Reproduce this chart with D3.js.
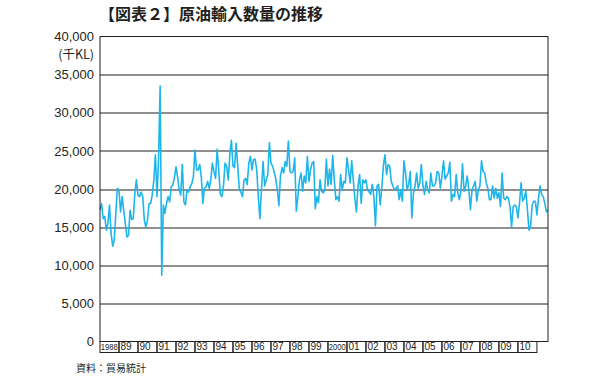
<!DOCTYPE html>
<html>
<head>
<meta charset="utf-8">
<script src="https://cdn.jsdelivr.net/npm/d3@7"></script>
<style>
  body { margin: 0; background: #fff; }
  svg { display: block; }
</style>
</head>
<body>
<svg id="chart" width="600" height="378"></svg>
<script>
// monthly crude oil import volume (thousand KL), Jan 1988 - Aug 2011
var imports1988to1993 = [
    17300, 18100, 16100, 16400, 14600, 15500, 17900, 14200, 12500, 13300, 16800, 20100,
    19900, 17000, 19000, 17200, 15500, 13700, 13900, 17200, 16000, 16100, 19400, 21200,
    19200, 19000, 19600, 19000, 15900, 15000, 15900, 18100, 18100, 19200, 21200, 24500,
    19000, 24000, 33500, 8700, 17900, 16800, 18100, 19000, 18300, 20300, 20500, 21500,
    22900, 21600, 19900, 19200, 23200, 18300, 17900, 19900, 19600, 20300, 20700, 21600,
    25100, 22500, 22500, 23200, 21600, 18100, 20100, 20300, 21000, 20100, 21200, 23400
];
var imports1994to1999 = [
    22300, 21400, 25200, 22500, 19300, 19000, 20400, 23400, 23000, 21200, 24500, 26400,
    23000, 22800, 26000, 23000, 19900, 19600, 19000, 21200, 21400, 20600, 23400, 24300,
    22500, 23900, 23900, 22500, 19000, 16100, 19900, 23600, 20400, 21200, 21900, 26100,
    23400, 23000, 22300, 21400, 19900, 17800, 21700, 22800, 22100, 23600, 23000, 26300,
    22300, 22100, 22300, 24100, 17100, 19000, 21200, 22100, 19700, 21700, 20800, 24300,
    21000, 22500, 23400, 23600, 17400, 19000, 18200, 21200, 19700, 19500, 19900, 23900
];
var imports2000to2005 = [
    20400, 22600, 20600, 24400, 21200, 18600, 19000, 18400, 21900, 19900, 21000, 20800,
    24100, 22600, 20800, 23700, 21200, 18800, 17000, 20400, 21900, 18100, 21200, 20800,
    21200, 19900, 19600, 19300, 20600, 19000, 15200, 20400, 20600, 17900, 20100, 23000,
    24500, 21900, 23200, 23000, 21000, 20400, 19900, 20100, 20400, 18600, 19900, 18400,
    23700, 22100, 19900, 20600, 22300, 16200, 19500, 20400, 22100, 20100, 20800, 23200,
    20400, 19300, 21000, 19900, 19500, 22100, 20400, 20400, 20800, 22300, 22100, 20100
];
var imports2006to2011 = [
    21700, 23700, 21300, 21700, 22100, 23500, 18400, 19300, 19000, 21900, 19500, 18600,
    19700, 23300, 19700, 20400, 21700, 19900, 17300, 19900, 20400, 21000, 18400, 19900,
    20400, 23700, 22300, 22100, 20800, 20100, 18600, 18600, 20400, 18800, 20100, 18800,
    19500, 17700, 22100, 18800, 18600, 19000, 18800, 17700, 15000, 17700, 17900, 17700,
    16200, 18100, 20800, 18400, 18800, 19700, 17300, 14600, 15100, 17900, 18400, 18400,
    16600, 18800, 20400, 19300, 19000, 18100, 17000, 17300
];
var yearLabels = ["1988", "89", "90", "91", "92", "93", "94", "95", "96", "97", "98", "99",
    "2000", "01", "02", "03", "04", "05", "06", "07", "08", "09", "10"];
var yTicks = [0, 5000, 10000, 15000, 20000, 25000, 30000, 35000, 40000];

var monthly = imports1988to1993.concat(imports1994to1999, imports2000to2005, imports2006to2011);

var svg = d3.select("#chart"),
    margin = {
        top: 36.5,
        left: 100
    },
    width = 448,
    height = 305;

var g = svg.append("g")
    .attr("transform", "translate(" + margin.left + "," + margin.top + ")");

var x = d3.scaleLinear().domain([0, monthly.length - 1]).range([0, width]);
var y = d3.scaleLinear().domain([0, 40000]).range([height, 0]);

var ink = "#231f20";
var fmt = d3.format(",");

// title
svg.append("text")
    .attr("x", 99)
    .attr("y", 20)
    .attr("font-family", "'Noto Sans CJK JP', sans-serif")
    .attr("font-size", 16)
    .attr("font-weight", "bold")
    .attr("fill", ink)
    .text("【図表２】原油輸入数量の推移");

// gridlines
g.selectAll("line.grid")
    .data(yTicks.slice(1, -1))
    .enter().append("line")
    .attr("class", "grid")
    .attr("x1", 0)
    .attr("x2", width)
    .attr("y1", function (d) { return Math.round(y(d)) + 0.5; })
    .attr("y2", function (d) { return Math.round(y(d)) + 0.5; })
    .attr("stroke", ink)
    .attr("stroke-width", 1);

// y axis labels
var yAxis = d3.axisLeft(y).tickValues(yTicks).tickSize(0).tickPadding(6).tickFormat(fmt);
g.append("g")
    .attr("class", "y axis")
    .call(yAxis)
    .call(function (s) { s.select(".domain").remove(); })
    .selectAll("text")
    .attr("font-family", "'Liberation Sans', Arial, sans-serif")
    .attr("font-size", 13)
    .attr("fill", ink);

// unit
g.append("text")
    .attr("x", -6)
    .attr("y", y(40000) + 22)
    .attr("text-anchor", "end")
    .attr("font-family", "'Noto Sans CJK JP', 'Liberation Sans', sans-serif")
    .attr("font-size", 12.5)
    .attr("fill", ink)
    .text("(千KL)");

// line
var line = d3.line()
    .x(function (d, i) { return x(i); })
    .y(function (d) { return y(d); });

g.append("path")
    .datum(monthly)
    .attr("fill", "none")
    .attr("stroke", "#1eb6ea")
    .attr("stroke-width", 1.6)
    .attr("stroke-linejoin", "round")
    .attr("d", line);

// plot border
g.append("rect")
    .attr("x", 0)
    .attr("y", 0)
    .attr("width", width)
    .attr("height", height)
    .attr("fill", "none")
    .attr("stroke", ink)
    .attr("stroke-width", 1);

// year boxes under the plot
var boxH = 11;
var years = g.append("g")
    .attr("class", "x axis")
    .attr("transform", "translate(0," + height + ")");

years.selectAll("rect")
    .data(yearLabels)
    .enter().append("rect")
    .attr("x", function (d, i) { return x(i * 12); })
    .attr("y", 0)
    .attr("width", function (d, i) { return x(i * 12 + 12) - x(i * 12); })
    .attr("height", boxH)
    .attr("fill", "none")
    .attr("stroke", ink)
    .attr("stroke-width", 1);

years.selectAll("text")
    .data(yearLabels)
    .enter().append("text")
    .attr("x", function (d, i) { return x(i * 12) + (d.length > 2 ? 0.8 : 1.5); })
    .attr("y", boxH - 2.5)
    .attr("font-family", "'Liberation Sans', Arial, sans-serif")
    .attr("font-size", function (d) { return d.length > 2 ? 8.4 : 10; })
    .attr("fill", ink)
    .each(function (d) {
        if (d.length > 2) {
            d3.select(this).attr("textLength", 17).attr("lengthAdjust", "spacingAndGlyphs");
        }
    })
    .text(function (d) { return d; });

// source note
svg.append("text")
    .attr("x", 76)
    .attr("y", 372)
    .attr("font-family", "'Noto Sans CJK JP', sans-serif")
    .attr("font-size", 10)
    .attr("fill", ink)
    .text("資料：貿易統計");
</script>
</body>
</html>
